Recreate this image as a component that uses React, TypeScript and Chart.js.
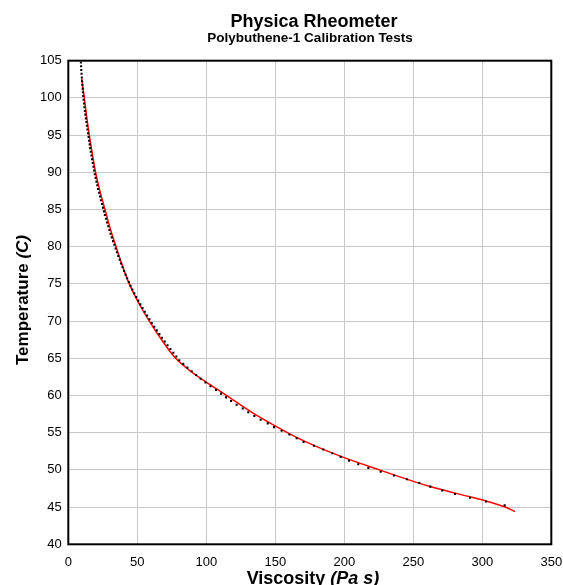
import { useEffect, useLayoutEffect, useRef } from "react";
import { Chart, registerables } from "chart.js";

Chart.register(...registerables);

// Measured data: temperature (C) and viscosity (Pa s)
const tempC = [
  104.75, 104.25, 103.75, 103.25, 102.75, 102.25, 101.75, 101.25, 100.75, 100.25,
  99.75, 99.25, 98.75, 98.25, 97.75, 97.25, 96.75, 96.25, 95.75, 95.25,
  94.75, 94.25, 93.75, 93.25, 92.75, 92.25, 91.75, 91.25, 90.75, 90.25,
  89.75, 89.25, 88.75, 88.25, 87.75, 87.25, 86.75, 86.25, 85.75, 85.25,
  84.75, 84.25, 83.75, 83.25, 82.75, 82.25, 81.75, 81.25, 80.75, 80.25,
  79.75, 79.25, 78.75, 78.25, 77.75, 77.25, 76.75, 76.25, 75.75, 75.25,
  74.75, 74.25, 73.75, 73.25, 72.75, 72.25, 71.75, 71.25, 70.75, 70.25,
  69.75, 69.25, 68.75, 68.25, 67.75, 67.25, 66.75, 66.25, 65.75, 65.25,
  64.75, 64.25, 63.75, 63.25, 62.75, 62.25, 61.75, 61.25, 60.75, 60.25,
  59.75, 59.25, 58.75, 58.25, 57.75, 57.25, 56.75, 56.25, 55.75, 55.25,
  54.75, 54.25, 53.75, 53.25, 52.75, 52.25, 51.75, 51.25, 50.75, 50.25,
  49.75, 49.25, 48.75, 48.25, 47.75, 47.25, 46.75, 46.25, 45.75, 45.25,
];

const viscosity = [
  9.1, 9.3, 9.4, 9.6, 9.8, 10.0, 10.2, 10.4, 10.6, 10.8,
  11.05, 11.4, 11.7, 12.0, 12.4, 12.7, 13.1, 13.5, 13.9, 14.3,
  14.7, 15.1, 15.5, 15.9, 16.3, 16.8, 17.2, 17.7, 18.2, 18.7,
  19.2, 19.8, 20.4, 21.0, 21.6, 22.3, 23.0, 23.6, 24.4, 25.1,
  25.8, 26.5, 27.3, 28.1, 28.9, 29.8, 30.6, 31.5, 32.4, 33.4,
  34.3, 35.25, 36.2, 37.2, 38.25, 39.3, 40.4, 41.5, 42.65, 43.85,
  45.1, 46.4, 47.8, 49.2, 50.7, 52.2, 53.8, 55.4, 57.1, 58.8,
  60.5, 62.3, 64.1, 66.0, 67.9, 69.9, 71.9, 74.0, 76.1, 78.3,
  80.4, 83.3, 86.3, 89.4, 92.6, 95.9, 99.4, 103.0, 107.0, 110.7,
  114.3, 117.9, 122.0, 126.4, 130.4, 134.8, 139.4, 144.5, 149.1, 154.6,
  160.2, 165.5, 170.5, 178.0, 184.8, 191.3, 197.4, 203.4, 210.1, 217.4,
  226.4, 236.0, 245.4, 254.3, 262.3, 271.0, 280.2, 291.1, 302.7, 316.2,
];

// Calibration fit curve (red)
const fitViscosity = [
  9.7, 11.6, 13.3, 15.2, 17.4, 19.8, 22.9, 26.6, 30.3, 34.6, 39.1, 44.2,
  50.8, 58.7, 67.2, 77.3, 88, 100, 114, 134.5, 158.7, 168, 180, 200, 225.9,
  250.7, 262.3, 280.2, 291.1, 302.7, 316.2, 323.7,
];
const fitTemp = [
  102.6, 100, 97.5, 95, 92.5, 90, 87.5, 85, 82.5, 80, 77.5, 75,
  72.5, 70, 67.6, 65.1, 63.35, 61.8, 60.1, 57.55, 55, 54.14, 53.13, 51.65, 49.97,
  48.42, 47.76, 46.88, 46.38, 45.82, 45.04, 44.4,
];

// Axis ranges / tick steps
const xMin = 0;
const xMax = 350;
const xStep = 50;
const yMin = 40;
const yMax = 105;
const yStep = 5;

const titleText = "Physica Rheometer";
const subtitleText = "Polybuthene-1 Calibration Tests";
const xTitleParts = ["Viscosity ", "(Pa s)"];
const yTitleParts = ["Temperature ", "(C)"];

const FAMILY = "'Liberation Sans', Arial, sans-serif";

function drawParts(
  ctx: CanvasRenderingContext2D,
  parts: string[],
  fonts: string[],
  cx: number,
  y: number
) {
  const widths = parts.map((p, i) => {
    ctx.font = fonts[i];
    return ctx.measureText(p).width;
  });
  const total = widths.reduce((a, b) => a + b, 0);
  let x = cx - total / 2;
  ctx.textAlign = "left";
  ctx.textBaseline = "alphabetic";
  parts.forEach((p, i) => {
    ctx.font = fonts[i];
    ctx.fillText(p, x, y);
    x += widths[i];
  });
}

const decorPlugin = {
  id: "decor",
  afterDraw(chart: any) {
    const ctx: CanvasRenderingContext2D = chart.ctx;
    const { left, right, top, bottom } = chart.chartArea;
    ctx.save();
    ctx.strokeStyle = "#000";
    ctx.lineWidth = 2;
    ctx.strokeRect(left, top, right - left, bottom - top);

    ctx.fillStyle = "#000";
    drawParts(ctx, [titleText], [`bold 18px ${FAMILY}`], 314, 26.7);
    drawParts(ctx, [subtitleText], [`bold 13.5px ${FAMILY}`], 310, 42.3);

    drawParts(
      ctx,
      xTitleParts,
      [`bold 18px ${FAMILY}`, `italic bold 18px ${FAMILY}`],
      313,
      584
    );

    ctx.translate(28, 300);
    ctx.rotate(-Math.PI / 2);
    drawParts(
      ctx,
      yTitleParts,
      [`bold 17px ${FAMILY}`, `italic bold 17px ${FAMILY}`],
      0,
      0
    );
    ctx.restore();
  },
};

export default function App() {
  const canvasRef = useRef<HTMLCanvasElement | null>(null);

  useLayoutEffect(() => {
    const prev = document.body.style.margin;
    document.body.style.margin = "0";
    return () => {
      document.body.style.margin = prev;
    };
  }, []);

  useEffect(() => {
    if (!canvasRef.current) return;
    const dots = tempC.map((t, i) => ({ x: viscosity[i], y: t }));
    const fit = fitTemp.map((t, i) => ({ x: fitViscosity[i], y: t }));

    const chart = new Chart(canvasRef.current, {
      type: "scatter",
      data: {
        datasets: [
          {
            label: "Measured",
            data: dots,
            pointStyle: "rect",
            pointRadius: 1.45,
            pointBackgroundColor: "#000",
            pointBorderWidth: 0,
            showLine: false,
          },
          {
            label: "Fit",
            data: fit,
            showLine: true,
            borderColor: "#ff0000",
            borderWidth: 1.5,
            pointRadius: 0,
            tension: 0.35,
            fill: false,
          },
        ],
      },
      options: {
        animation: false,
        responsive: false,
        devicePixelRatio: 1,
        layout: { padding: { top: 60.7, left: 40, right: 11.7, bottom: 15.1 } },
        plugins: {
          legend: { display: false },
          tooltip: { enabled: false },
          title: { display: false },
        },
        scales: {
          x: {
            type: "linear",
            min: xMin,
            max: xMax,
            afterFit: (s: any) => {
              s.height = 25.6;
              s.paddingLeft = 0;
              s.paddingRight = 0;
            },
            ticks: {
              stepSize: xStep,
              color: "#000",
              padding: 10,
              maxRotation: 0,
              autoSkip: false,
              font: { family: FAMILY, size: 13 },
            },
            grid: { color: "#c8c8c8", lineWidth: 1, drawTicks: false },
            border: { display: false },
          },
          y: {
            type: "linear",
            min: yMin,
            max: yMax,
            afterFit: (s: any) => {
              s.width = 28.3;
              s.paddingTop = 0;
              s.paddingBottom = 0;
            },
            ticks: {
              stepSize: yStep,
              color: "#000",
              padding: 6.6,
              font: { family: FAMILY, size: 13 },
            },
            grid: { color: "#c8c8c8", lineWidth: 1, drawTicks: false },
            border: { display: false },
          },
        },
      },
      plugins: [decorPlugin],
    });
    return () => chart.destroy();
  }, []);

  return (
    <div style={{ width: 563, height: 585, overflow: "hidden" }}>
      <canvas ref={canvasRef} width={563} height={585} style={{ display: "block" }} />
    </div>
  );
}
